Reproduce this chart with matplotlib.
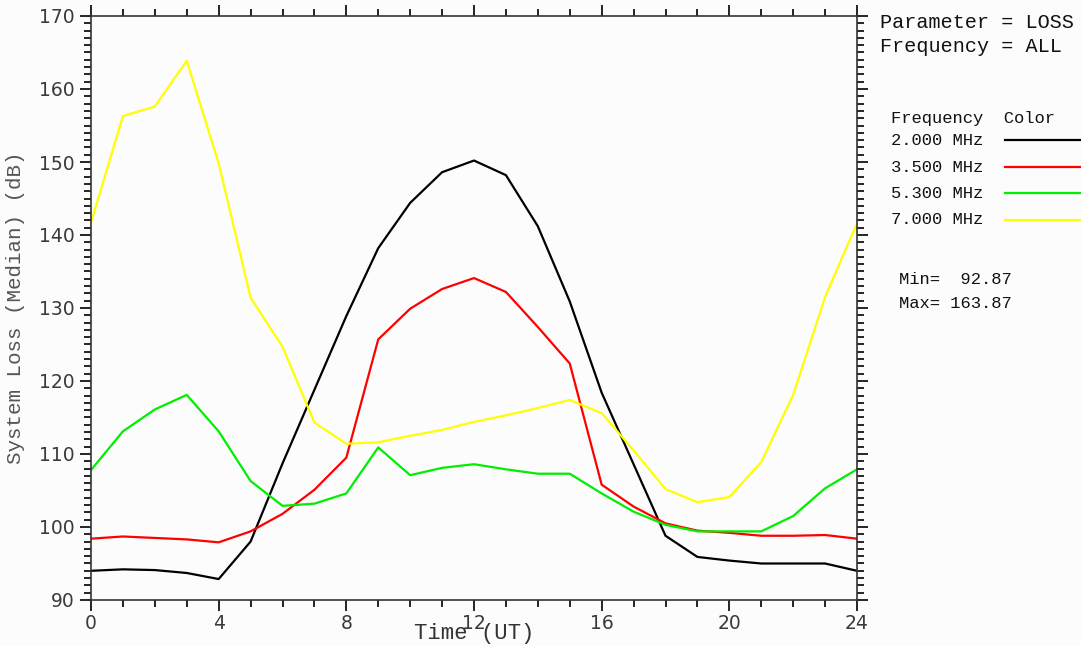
import numpy as np
import matplotlib
matplotlib.use("Agg")
import matplotlib.pyplot as plt
from matplotlib.ticker import MultipleLocator

# hours UT
hours = np.arange(0, 25)

loss_2mhz = [94.0, 94.2, 94.1, 93.7, 92.87, 98.0, 108.7, 118.8, 128.9, 138.2,
             144.4, 148.6, 150.2, 148.2, 141.2, 130.9, 118.4, 108.6, 98.8, 95.9,
             95.4, 95.0, 95.0, 95.0, 94.0]
loss_3mhz5 = [98.4, 98.7, 98.5, 98.3, 97.9, 99.4, 101.8, 105.1, 109.5, 125.7,
              129.9, 132.6, 134.1, 132.2, 127.4, 122.4, 105.8, 102.8, 100.5, 99.5,
              99.2, 98.8, 98.8, 98.9, 98.4]
loss_5mhz3 = [107.8, 113.1, 116.1, 118.1, 113.1, 106.3, 102.9, 103.2, 104.6, 110.9,
              107.1, 108.1, 108.6, 107.9, 107.3, 107.3, 104.6, 102.1, 100.3, 99.4,
              99.4, 99.4, 101.5, 105.3, 107.9]
loss_7mhz = [141.7, 156.3, 157.6, 163.87, 149.8, 131.4, 124.7, 114.3, 111.4, 111.6,
             112.5, 113.3, 114.4, 115.3, 116.3, 117.4, 115.6, 110.5, 105.2, 103.4,
             104.1, 108.9, 118.1, 131.5, 141.6]

freq_labels = ["2.000 MHz", "3.500 MHz", "5.300 MHz", "7.000 MHz"]
colors = ["black", "#ff0000", "#00ee00", "#ffff00"]
series = [loss_2mhz, loss_3mhz5, loss_5mhz3, loss_7mhz]

mono = "Liberation Mono"
tick_col = "#3a3a3a"

fig = plt.figure(figsize=(10.81, 6.46), dpi=100, facecolor="#fcfcfc")
ax = fig.add_axes([91/1081, 1 - 600/646, (857-91)/1081, (600-16)/646])
ax.set_facecolor("#fcfcfc")

for vals, c in zip(series, colors):
    ax.plot(hours, vals, color=c, lw=1.6)

ax.set_xlim(0, 24)
ax.set_ylim(90, 170)
ax.xaxis.set_major_locator(MultipleLocator(4))
ax.xaxis.set_minor_locator(MultipleLocator(1))
ax.yaxis.set_major_locator(MultipleLocator(10))
ax.yaxis.set_minor_locator(MultipleLocator(1))
ax.tick_params(which="both", direction="out", top=True, right=True,
               labeltop=False, labelright=False, colors="black",
               labelcolor=tick_col, labelsize=13.5, width=1.2)
ax.tick_params(which="major", length=8)
ax.tick_params(which="minor", length=5)
ax.tick_params(axis="x", which="major", pad=2)
for sp in ax.spines.values():
    sp.set_color("#333333")
    sp.set_linewidth(1.2)

ax.set_xlabel("Time (UT)", family=mono, fontsize=16, color="#333333", labelpad=-7)
ax.set_ylabel("System Loss (Median) (dB)", family=mono, fontsize=15,
              color="#555555", labelpad=10)

# right hand annotations
fig.text(880/1081, 1 - 22/646, "Parameter = LOSS", family=mono, fontsize=14.5,
         color="#111111", va="center")
fig.text(880/1081, 1 - 47/646, "Frequency = ALL", family=mono, fontsize=14.5,
         color="#111111", va="center")
fig.text(891/1081, 1 - 118/646, "Frequency  Color", family=mono, fontsize=12.3,
         color="#111111", va="center")
row_y = [140, 167, 193, 220]
for lab, c, yy in zip(freq_labels, colors, row_y):
    fig.text(891/1081, 1 - yy/646, lab, family=mono, fontsize=12.3,
             color="#111111", va="center")
    fig.add_artist(plt.Line2D([1005/1081, 1.0], [1 - yy/646, 1 - yy/646],
                              color=c, lw=1.6, transform=fig.transFigure))
fig.text(899/1081, 1 - 280/646, "Min=  92.87", family=mono, fontsize=12.3,
         color="#111111", va="center")
fig.text(899/1081, 1 - 303/646, "Max= 163.87", family=mono, fontsize=12.3,
         color="#111111", va="center")
fig.text(1036/1081, 1 - 657/646, "NTIA", family=mono, fontsize=16,
         color="red", fontweight="bold", va="center")

fig.savefig("out.png", dpi=100, facecolor=fig.get_facecolor())
